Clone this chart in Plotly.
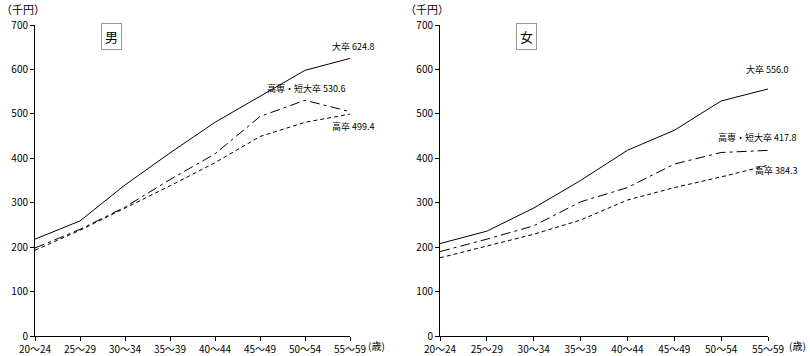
import plotly.graph_objects as go
from plotly.subplots import make_subplots

ages = ["20～24", "25～29", "30～34", "35～39", "40～44", "45～49", "50～54", "55～59"]
series_names = ["大卒", "高専・短大卒", "高卒"]

male_univ = [218, 259, 340, 412, 481, 540, 598, 624.8]
male_tech = [198, 240, 290, 352, 410, 494, 530.6, 505]
male_high = [193, 238, 288, 338, 390, 449, 481, 499.4]

female_univ = [208, 236, 288, 350, 418, 463, 529, 556.0]
female_tech = [190, 218, 248, 302, 334, 387, 413, 417.8]
female_high = [176, 202, 229, 261, 306, 334, 358, 384.3]

y_ticks = [0, 100, 200, 300, 400, 500, 600, 700]

W, H = 810, 356
FONT = "Noto Sans CJK JP"

fig = make_subplots(rows=1, cols=2)
styles = ["solid", "10px,4px,3px,4px", "4px,3px"]
xs = list(range(len(ages)))

for col, data in [(1, [male_univ, male_tech, male_high]), (2, [female_univ, female_tech, female_high])]:
    for name, vals, dash in zip(series_names, data, styles):
        fig.add_trace(go.Scatter(x=xs, y=vals, mode="lines", name=name,
                                 line=dict(color="black", width=1, dash=dash),
                                 showlegend=False, hoverinfo="skip"), row=1, col=col)

axis_common = dict(showgrid=False, zeroline=False, showline=True, linecolor="black", linewidth=1,
                   ticks="outside", ticklen=4, tickcolor="black", automargin=False,
                   tickfont=dict(family=FONT, size=10, color="black"))

fig.update_xaxes(**axis_common, tickvals=xs, ticktext=ages, range=[0, 7])
fig.update_yaxes(**axis_common, tickvals=y_ticks, range=[0, 700])
fig.update_xaxes(domain=[35 / W, 350 / W], row=1, col=1)
fig.update_xaxes(domain=[440 / W, 768 / W], row=1, col=2)

ann = []
def lab(xref, yref, x, y, text, xs_, ys_):
    ann.append(dict(x=x, y=y, xref=xref, yref=yref, text=text, showarrow=False,
                    xanchor="center", yanchor="middle",
                    xshift=xs_, yshift=ys_, font=dict(family=FONT, size=9, color="black")))

lab("x", "y", 7, male_univ[-1], f"{series_names[0]} {male_univ[-1]:.1f}", 3, 12)
lab("x", "y", 6, max(male_tech), f"{series_names[1]} {max(male_tech):.1f}", 1, 12)
lab("x", "y", 7, male_high[-1], f"{series_names[2]} {male_high[-1]:.1f}", 3, -12)
lab("x2", "y2", 7, female_univ[-1], f"{series_names[0]} {female_univ[-1]:.1f}", -1, 19)
lab("x2", "y2", 7, female_tech[-1], f"{series_names[1]} {female_tech[-1]:.1f}", -11, 13)
lab("x2", "y2", 7, female_high[-1], f"{series_names[2]} {female_high[-1]:.1f}", 8, -5)

plot_top, plot_bot = 25, 336
def py(pix):
    return (plot_bot - pix) / (plot_bot - plot_top)

for x0, text in [(112, "男"), (526, "女")]:
    ann.append(dict(x=x0 / W, y=py(37), xref="paper", yref="paper", text=text, showarrow=False,
                    xanchor="center", yanchor="middle",
                    bordercolor="#999999", borderwidth=1, borderpad=3,
                    font=dict(family=FONT, size=13, color="black")))
for x0 in [23, 427]:
    ann.append(dict(x=x0 / W, y=py(9), xref="paper", yref="paper", text="（千円）", showarrow=False,
                    xanchor="center", yanchor="middle",
                    font=dict(family=FONT, size=11, color="black")))
for x0 in [376, 797]:
    ann.append(dict(x=x0 / W, y=py(346), xref="paper", yref="paper", text="(歳)", showarrow=False,
                    xanchor="center", yanchor="middle",
                    font=dict(family=FONT, size=10, color="black")))

fig.update_layout(width=W, height=H, margin=dict(l=0, r=0, t=plot_top, b=H - plot_bot, autoexpand=False),
                  plot_bgcolor="white", paper_bgcolor="white", annotations=ann,
                  font=dict(family=FONT, color="black"))

fig.write_html("out.html", config={"displayModeBar": False},
               post_script="document.body.style.margin='0';document.body.style.overflow='hidden';")
